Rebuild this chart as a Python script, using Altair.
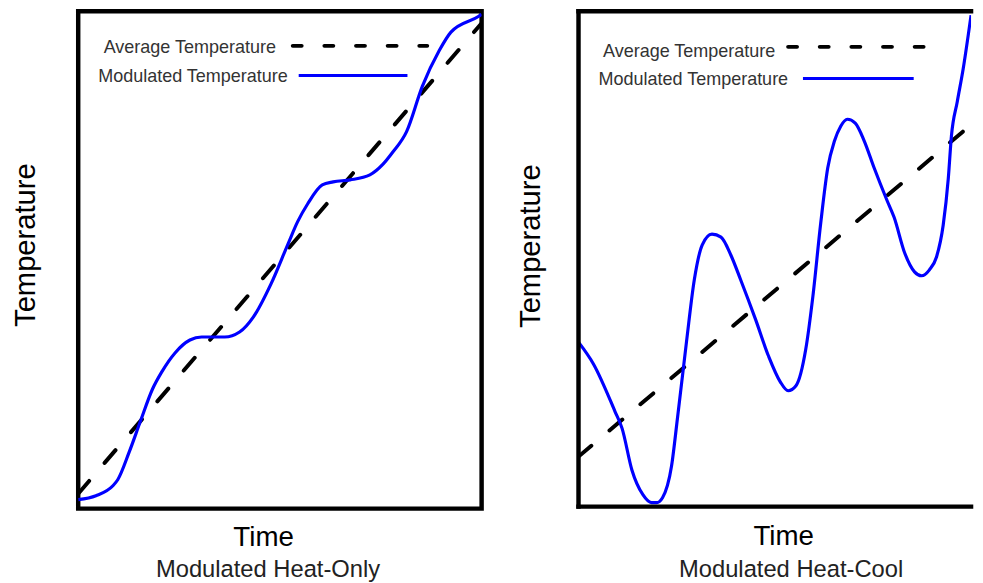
import altair as alt
import pandas as pd

FONT = "Liberation Sans"
BLUE = "#0000ff"

# ---- Left panel: Modulated Heat-Only ----
HEAT_TIME = [0, 4.4, 8.6, 9.8, 12.7, 15.4, 18.4, 20.8, 24.0, 27.7, 30.6, 36.3, 40.0, 43.4, 47.8,
             52.0, 54.4, 56.9, 60.5, 63.2, 67.4, 72.3, 75.5, 77.9, 81.4, 85.3, 89.5, 92.4, 99.3, 100]
HEAT_TEMP = [1.8, 2.6, 4.6, 5.8, 11.5, 17.5, 24.0, 27.6, 31.3, 33.9, 34.5, 34.5, 35.5, 38.5, 45.2,
             53.2, 57.7, 61.3, 65.1, 65.7, 66.1, 67.1, 69.2, 71.6, 75.8, 84.9, 92.1, 95.8, 99.0, 99.4]
HEAT_AVG_TIME = [0, 100]
HEAT_AVG_TEMP = [3.0, 97.6]

# ---- Right panel: Modulated Heat-Cool ----
COOL_TIME = [0, 3.8, 9.3, 11.1, 13.6, 16.4, 18.6, 19.9, 21.4, 23.7, 25.2, 27.5, 29.5, 31.5, 34.0,
             36.3, 38.8, 41.3, 45.1, 48.4, 51.4, 53.4, 55.4, 57.9, 59.7, 61.7, 63.5, 65.2, 66.8,
             68.5, 70.5, 72.8, 75.3, 78.6, 80.4, 83.1, 85.6, 87.4, 89.4, 91.2, 92.9, 94.2, 95.0,
             96.5, 98.0, 100]
COOL_TEMP = [33.2, 28.8, 19.2, 15.8, 7.4, 2.4, 0.8, 0.8, 1.8, 8.2, 17.8, 33.2, 45.8, 52.8, 55.0,
             54.4, 50.8, 45.8, 37.8, 30.4, 25.2, 23.4, 24.4, 31.8, 42.4, 57.2, 68.4, 73.8, 76.8,
             78.2, 77.4, 73.8, 68.4, 61.8, 58.4, 51.2, 47.4, 46.6, 47.8, 50.4, 56.8, 66.2, 74.8,
             81.8, 88.4, 99.2]
COOL_AVG_TIME = [0, 100]
COOL_AVG_TEMP = [10.1, 77.1]

LEGEND_LABELS = ["Average Temperature", "Modulated Temperature"]
X_TITLE = "Time"
Y_TITLE = "Temperature"
SUBTITLES = ["Modulated Heat-Only", "Modulated Heat-Cool"]


def panel(time, temp, avg_time, avg_temp, W, H, subtitle, lay, full_border):
    xs = alt.Scale(domain=[0, 100], nice=False, zero=False)
    ys = alt.Scale(domain=[0, 100], nice=False, zero=False)
    xa = alt.Axis(title=X_TITLE, labels=False, ticks=False, domain=False, grid=False,
                  titleFont=FONT, titleFontSize=28, titleFontWeight="normal", titleColor="black",
                  titleX=lay["tx"], titleY=lay["ty"], titleBaseline="alphabetic", titleAlign="center")
    ya = alt.Axis(title=Y_TITLE, labels=False, ticks=False, domain=False, grid=False,
                  titleFont=FONT, titleFontSize=29.5, titleFontWeight="normal", titleColor="black",
                  titleAngle=270, titleX=lay["yx"], titleY=lay["yy"], titleBaseline="alphabetic",
                  titleAlign="center")

    mod_df = pd.DataFrame({"t": time, "v": temp})
    avg_df = pd.DataFrame({"t": avg_time, "v": avg_temp})
    one = pd.DataFrame({"k": [0]})

    avg = alt.Chart(avg_df).mark_line(color="black", strokeWidth=4, strokeDash=[17, 24],
                                      strokeCap="round", clip=True).encode(
        x=alt.X("t:Q", scale=xs, axis=xa), y=alt.Y("v:Q", scale=ys, axis=ya))
    mod = alt.Chart(mod_df).mark_line(color=BLUE, strokeWidth=3.2, interpolate="monotone",
                                      clip=True).encode(
        x=alt.X("t:Q", scale=xs, axis=xa), y=alt.Y("v:Q", scale=ys, axis=ya))

    def label(txt, x, y):
        return alt.Chart(one).mark_text(font=FONT, fontSize=18.2, color="#333", align="right",
                                        baseline="alphabetic").encode(
            x=alt.value(x), y=alt.value(y), text=alt.value(txt))

    leg_avg_txt = label(LEGEND_LABELS[0], lay["lax"], lay["lay"])
    leg_mod_txt = label(LEGEND_LABELS[1], lay["lmx"], lay["lmy"])
    leg_avg_line = alt.Chart(one).mark_rule(color="black", strokeWidth=4, strokeDash=[9, 23],
                                            strokeCap="round").encode(
        x=alt.value(lay["dx1"]), x2=alt.value(lay["dx2"]), y=alt.value(lay["dy"]))
    leg_mod_line = alt.Chart(one).mark_rule(color=BLUE, strokeWidth=3.2).encode(
        x=alt.value(lay["sx1"]), x2=alt.value(lay["sx2"]), y=alt.value(lay["sy"]))
    sub = alt.Chart(one).mark_text(font=FONT, fontSize=24, color="#222", align="center",
                                   baseline="alphabetic").encode(
        x=alt.value(lay["subx"]), y=alt.value(lay["suby"]), text=alt.value(subtitle))

    layers = [avg, mod, leg_avg_txt, leg_mod_txt, leg_avg_line, leg_mod_line, sub]
    if full_border:
        view = alt.ViewBackground(stroke="black", strokeWidth=4.5)
    else:
        view = alt.ViewBackground(stroke=None, strokeWidth=0)
        bw = 4.5
        left = alt.Chart(one).mark_rule(color="black", strokeWidth=bw, strokeCap="square").encode(
            x=alt.value(0), y=alt.value(0), y2=alt.value(H))
        top = alt.Chart(one).mark_rule(color="black", strokeWidth=bw, strokeCap="square").encode(
            x=alt.value(0), x2=alt.value(W), y=alt.value(0))
        bottom = alt.Chart(one).mark_rule(color="black", strokeWidth=bw, strokeCap="square").encode(
            x=alt.value(0), x2=alt.value(W), y=alt.value(H))
        layers += [left, top, bottom]
    return alt.layer(*layers).properties(width=W, height=H, view=view)


left_lay = dict(tx=187, ty=37, yx=-44, yy=236,
                lax=200, lay=42, lmx=212, lmy=72,
                dx1=217, dx2=353, dy=35, sx1=223, sx2=333, sy=65,
                subx=192, suby=572)
right_lay = dict(tx=207, ty=38, yx=-39, yy=237,
                 lax=199, lay=46, lmx=212, lmy=75,
                 dx1=212, dx2=352, dy=36, sx1=227, sx2=339, sy=68,
                 subx=215, suby=572)

left = panel(HEAT_TIME, HEAT_TEMP, HEAT_AVG_TIME, HEAT_AVG_TEMP, 408, 503, SUBTITLES[0], left_lay, True)
right = panel(COOL_TIME, COOL_TEMP, COOL_AVG_TIME, COOL_AVG_TEMP, 397, 501, SUBTITLES[1], right_lay, False)

chart = alt.hconcat(left, right, spacing=32).properties(
    padding={"left": 0, "top": -4, "right": 0, "bottom": 0}
).configure(background="white")

chart.save("out.html", embed_options={"renderer": "svg", "actions": False})
